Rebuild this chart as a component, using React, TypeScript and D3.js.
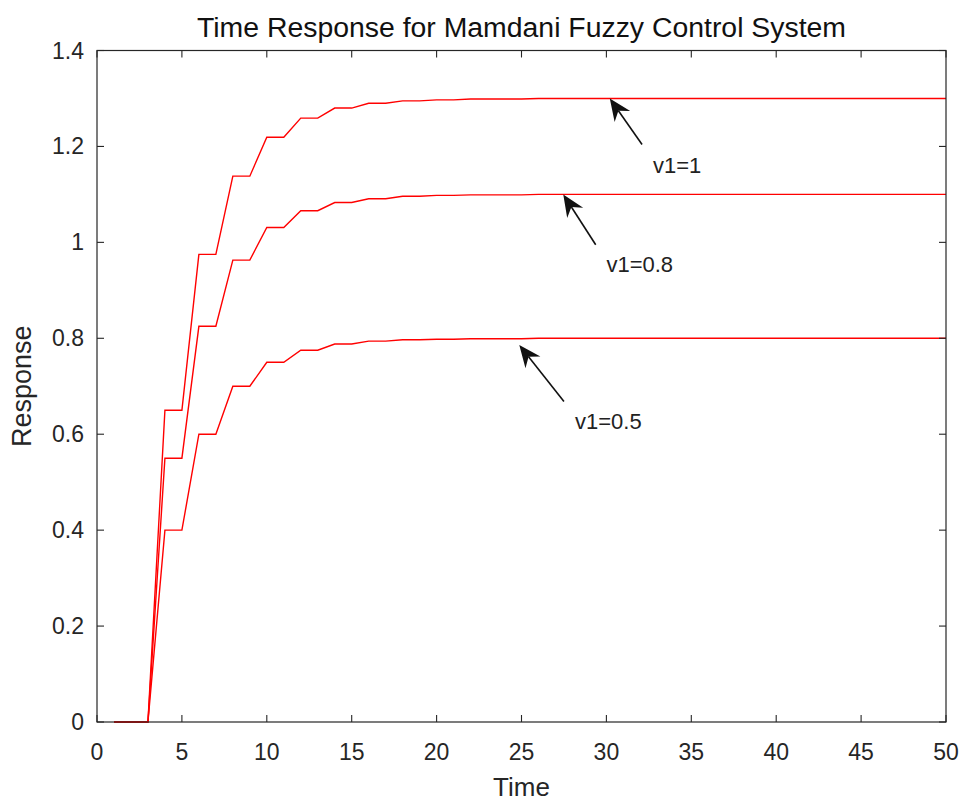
import React from "react";
import * as d3 from "d3";

const time = [
  1, 2, 3, 4, 5, 6, 7, 8, 9, 10, 11, 12, 13, 14, 15, 16, 17, 18, 19, 20, 21, 22, 23, 24, 25,
  26, 27, 28, 29, 30, 31, 32, 33, 34, 35, 36, 37, 38, 39, 40, 41, 42, 43, 44, 45, 46, 47, 48, 49, 50,
];

const responseV1_1 = [
  0, 0, 0, 0.65, 0.65, 0.975, 0.975, 1.138, 1.138, 1.219, 1.219, 1.259, 1.259, 1.28, 1.28,
  1.29, 1.29, 1.295, 1.295, 1.297, 1.297, 1.299, 1.299, 1.299, 1.299,
  1.3, 1.3, 1.3, 1.3, 1.3, 1.3, 1.3, 1.3, 1.3, 1.3, 1.3, 1.3, 1.3, 1.3, 1.3, 1.3, 1.3, 1.3, 1.3, 1.3,
  1.3, 1.3, 1.3, 1.3, 1.3,
];

const responseV1_08 = [
  0, 0, 0, 0.55, 0.55, 0.825, 0.825, 0.963, 0.963, 1.031, 1.031, 1.066, 1.066, 1.083, 1.083,
  1.091, 1.091, 1.096, 1.096, 1.098, 1.098, 1.099, 1.099, 1.099, 1.099,
  1.1, 1.1, 1.1, 1.1, 1.1, 1.1, 1.1, 1.1, 1.1, 1.1, 1.1, 1.1, 1.1, 1.1, 1.1, 1.1, 1.1, 1.1, 1.1, 1.1,
  1.1, 1.1, 1.1, 1.1, 1.1,
];

const responseV1_05 = [
  0, 0, 0, 0.4, 0.4, 0.6, 0.6, 0.7, 0.7, 0.75, 0.75, 0.775, 0.775, 0.788, 0.788,
  0.794, 0.794, 0.797, 0.797, 0.798, 0.798, 0.799, 0.799, 0.799, 0.799,
  0.8, 0.8, 0.8, 0.8, 0.8, 0.8, 0.8, 0.8, 0.8, 0.8, 0.8, 0.8, 0.8, 0.8, 0.8, 0.8, 0.8, 0.8, 0.8, 0.8,
  0.8, 0.8, 0.8, 0.8, 0.8,
];

const seriesList = [responseV1_1, responseV1_08, responseV1_05];

const xTicks = [0, 5, 10, 15, 20, 25, 30, 35, 40, 45, 50];
const yTicks = [0, 0.2, 0.4, 0.6, 0.8, 1, 1.2, 1.4];

// annotation arrows in data coordinates
const annotationLabels = ["v1=1", "v1=0.8", "v1=0.5"];
const arrowTipX = [30.2, 27.46, 24.87];
const arrowTipY = [1.3, 1.1, 0.786];
const arrowTailX = [32.1, 29.37, 27.5];
const arrowTailY = [1.204, 0.995, 0.668];
const labelX = [32.74, 30.0, 28.15];
const labelY = [1.161, 0.953, 0.626];

const titleText = "Time Response for Mamdani Fuzzy Control System";
const xLabel = "Time";
const yLabel = "Response";

const W = 964;
const H = 804;
const M = { left: 97, right: 946, top: 50.5, bottom: 722 };
const FONT = "'Liberation Sans', Arial, Helvetica, sans-serif";
const AX = "#262626";

export default function App() {
  const x = d3.scaleLinear().domain([0, 50]).range([M.left, M.right]);
  const y = d3.scaleLinear().domain([0, 1.4]).range([M.bottom, M.top]);
  const line = d3
    .line<number>()
    .x((_, i) => x(time[i]))
    .y((d) => y(d));

  const tickLen = 7;

  const arrows = annotationLabels.map((lab, i) => {
    const tx = x(arrowTipX[i]);
    const ty = y(arrowTipY[i]);
    const sx = x(arrowTailX[i]);
    const sy = y(arrowTailY[i]);
    const dx = sx - tx;
    const dy = sy - ty;
    const len = Math.hypot(dx, dy);
    const ux = dx / len;
    const uy = dy / len;
    const px = -uy;
    const py = ux;
    const hl = 22;
    const hw = 9.5;
    const back = 15;
    const w1 = [tx + ux * hl + px * hw, ty + uy * hl + py * hw];
    const w2 = [tx + ux * hl - px * hw, ty + uy * hl - py * hw];
    const bc = [tx + ux * back, ty + uy * back];
    const head = `M${tx},${ty}L${w1[0]},${w1[1]}L${bc[0]},${bc[1]}L${w2[0]},${w2[1]}Z`;
    return (
      <g key={lab}>
        <line x1={sx} y1={sy} x2={bc[0]} y2={bc[1]} stroke="#111" strokeWidth={1.6} />
        <path d={head} fill="#111" stroke="none" />
        <text
          x={x(labelX[i])}
          y={y(labelY[i])}
          dominantBaseline="central"
          fontSize={22}
          fill="#222"
          fontFamily={FONT}
        >
          {lab}
        </text>
      </g>
    );
  });

  return (
    <svg
      width={W}
      height={H}
      style={{ position: "absolute", left: 0, top: 0, background: "#fff" }}
      fontFamily={FONT}
    >
      <rect x={0} y={0} width={W} height={H} fill="#fff" />
      {/* data lines */}
      <g>
        {seriesList.map((s, i) => (
          <path key={i} d={line(s) || ""} fill="none" stroke="#f00" strokeWidth={1.4} />
        ))}
      </g>
      {/* box */}
      <rect
        x={M.left}
        y={M.top}
        width={M.right - M.left}
        height={M.bottom - M.top}
        fill="none"
        stroke={AX}
        strokeWidth={1.2}
      />
      {/* x ticks */}
      {xTicks.map((t) => (
        <g key={"x" + t}>
          <line x1={x(t)} x2={x(t)} y1={M.bottom} y2={M.bottom - tickLen} stroke={AX} strokeWidth={1.1} />
          <line x1={x(t)} x2={x(t)} y1={M.top} y2={M.top + tickLen} stroke={AX} strokeWidth={1.1} />
          <text
            x={x(t)}
            y={M.bottom + 30}
            textAnchor="middle"
            dominantBaseline="central"
            fontSize={23}
            fill={AX}
          >
            {t}
          </text>
        </g>
      ))}
      {/* y ticks */}
      {yTicks.map((t) => (
        <g key={"y" + t}>
          <line x1={M.left} x2={M.left + tickLen} y1={y(t)} y2={y(t)} stroke={AX} strokeWidth={1.1} />
          <line x1={M.right} x2={M.right - tickLen} y1={y(t)} y2={y(t)} stroke={AX} strokeWidth={1.1} />
          <text
            x={M.left - 13}
            y={y(t)}
            textAnchor="end"
            dominantBaseline="central"
            fontSize={23}
            fill={AX}
          >
            {d3.format("")(t)}
          </text>
        </g>
      ))}
      {/* arrows */}
      {arrows}
      {/* title */}
      <text
        x={(M.left + M.right) / 2}
        y={27}
        textAnchor="middle"
        dominantBaseline="central"
        fontSize={28.4}
        fill="#111"
      >
        {titleText}
      </text>
      {/* axis labels */}
      <text
        x={(M.left + M.right) / 2}
        y={787}
        textAnchor="middle"
        dominantBaseline="central"
        fontSize={26}
        fill={AX}
      >
        {xLabel}
      </text>
      <text
        transform={`translate(22,${(M.top + M.bottom) / 2}) rotate(-90)`}
        textAnchor="middle"
        dominantBaseline="central"
        fontSize={27}
        fill={AX}
      >
        {yLabel}
      </text>
    </svg>
  );
}
